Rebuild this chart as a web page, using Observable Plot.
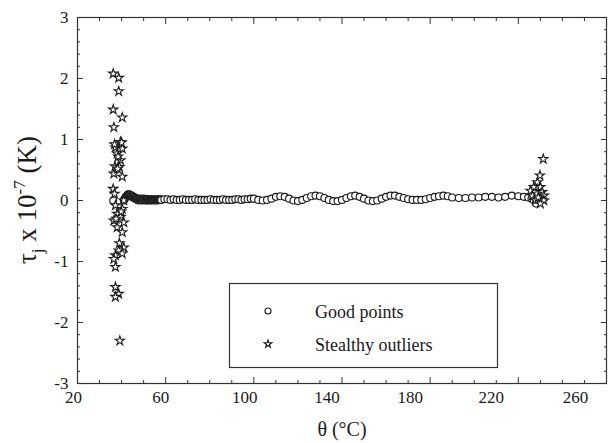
<!DOCTYPE html>
<html>
<head>
<meta charset="utf-8">
<script src="https://cdn.jsdelivr.net/npm/d3@7"></script>
<script src="https://cdn.jsdelivr.net/npm/@observablehq/plot@0.6"></script>
<style>
  html, body { margin: 0; padding: 0; background: white; }
  #chart { position: relative; width: 613px; height: 443px; }
  #chart svg text { font-family: "Liberation Serif" !important; }
</style>
</head>
<body>
<div id="chart"></div>
<script>
// ---- data ----
const goodTheta = [
  36.2,
  41.00, 41.25, 41.50, 41.75, 42.00, 42.25, 42.50, 42.75, 43.00, 43.25, 43.50, 43.75,
  44.00, 44.25, 44.50, 44.75, 45.00, 45.25, 45.50, 45.75, 46.00, 46.25, 46.50, 46.75,
  47.00, 47.25, 47.50, 47.75, 48.00, 48.25, 48.50, 48.75, 49.00, 49.25, 49.50, 49.75,
  50.00, 50.25, 50.50, 50.75, 51.00, 51.25, 51.50, 51.75, 52.00, 52.25, 52.50, 52.75,
  53.00, 53.25, 53.50, 53.75, 54.00, 54.25, 54.50, 54.75, 55.00, 55.25, 55.50, 55.75,
  56.00, 56.25, 56.50, 56.75, 57.00, 57.25, 57.50, 57.75, 58.00,
  59.4, 60.8, 62.2, 63.6, 65.0, 66.4, 67.8, 69.2, 70.6, 72.0, 73.4, 74.8, 76.2, 77.6, 79.0, 80.4,
  81.8, 83.2, 84.6, 86.0, 87.4, 88.8, 90.2, 91.6, 93.0, 94.4, 95.8, 97.2, 98.6,
  100, 102, 104, 106, 108, 110, 112, 114, 116, 118, 120, 122, 124, 126, 128, 130, 132, 134, 136,
  138, 140, 142, 144, 146, 148, 150, 152, 154, 156, 158, 160, 162, 164, 166, 168, 170, 172, 174,
  176, 178, 180, 182, 184, 186, 188, 190,
  193, 196, 199, 202, 205, 208, 211, 214, 217, 220, 222.5, 224.5, 226, 227, 228, 229
];
const goodTau = [
  0.00,
  0.00, 0.02, 0.03, 0.05, 0.06, 0.07, 0.08, 0.09, 0.10, 0.09, 0.10, 0.08,
  0.09, 0.07, 0.08, 0.06, 0.07, 0.05, 0.06, 0.04, 0.05, 0.03, 0.04, 0.02,
  0.03, 0.01, 0.02, 0.00, 0.02, 0.01, 0.03, 0.01, 0.02, 0.00, 0.02, 0.01,
  0.03, 0.01, 0.02, 0.00, 0.02, 0.01, 0.02, 0.00, 0.01, 0.02, 0.01, 0.00,
  0.01, 0.02, 0.01, 0.00, 0.01, 0.02, 0.01, 0.01, 0.00, 0.01, 0.02, 0.01,
  0.01, 0.00, 0.01, 0.02, 0.01, 0.01, 0.01, 0.02, 0.01,
  0.02, 0.02, 0.01, 0.02, 0.01, 0.01, 0.02, 0.01, 0.01, 0.01, 0.02, 0.01, 0.01, 0.01, 0.01, 0.02,
  0.01, 0.01, 0.01, 0.02, 0.01, 0.01, 0.01, 0.02, 0.02, 0.01, 0.02, 0.02, 0.03,
  0.03, 0.01, 0.00, 0.01, 0.03, 0.06, 0.07, 0.06, 0.03, 0.00, -0.01, 0.01, 0.04, 0.07, 0.08, 0.07,
  0.04, 0.01, -0.01, -0.01, 0.01, 0.04, 0.07, 0.08, 0.06, 0.03, 0.00, -0.01, 0.00, 0.03, 0.06, 0.08,
  0.08, 0.06, 0.04, 0.02, 0.01, 0.01, 0.01, 0.02, 0.04, 0.06, 0.07, 0.08, 0.07, 0.05,
  0.04, 0.04, 0.05, 0.05, 0.06, 0.06, 0.05, 0.06, 0.08, 0.07, 0.06, 0.05, 0.03, 0.01, -0.05, 0.02
];
const starTheta = [
  36.2, 38.7, 38.7, 36.2, 40.3, 36.5, 39.5, 37.2, 40.3, 38.0, 39.5, 40.0, 36.8, 38.4,
  36.5, 40.3, 37.0, 39.0, 36.2, 36.8, 38.2,
  41.0, 37.2, 40.3, 38.0, 36.5, 39.5, 41.0, 38.0, 40.3, 37.5, 39.8,
  41.0, 38.7, 37.2, 36.5, 40.3, 39.0, 37.2, 37.2, 38.7, 37.2, 39.2,
  231.3, 229.8, 228.6, 227.0, 230.0, 225.5, 230.8, 226.3, 231.6, 229.3, 231.6, 227.8, 230.0, 228.5, 229.0
];
const starTau = [
  2.08, 2.01, 1.79, 1.49, 1.36, 1.20, 0.96, 0.87, 0.85, 0.77, 0.66, 0.95, 0.92, 0.72,
  0.44, 0.39, 0.56, 0.55, 0.19, 0.11, 0.52,
  0.00, -0.08, -0.14, -0.22, -0.33, -0.27, -0.36, -0.44, -0.52, -0.30, -0.18,
  -0.77, -0.82, -0.90, -0.96, -0.87, -0.70, -1.09, -1.42, -1.53, -1.58, -2.30,
  0.68, 0.41, 0.30, 0.22, 0.22, 0.16, 0.14, 0.08, 0.08, 0.03, 0.00, 0.00, -0.05, 0.11, 0.05
];
const xMajor = [20, 60, 100, 140, 180, 220, 260];
const yMajor = [-3, -2, -1, 0, 1, 2, 3];
const xMinor = d3.range(20, 261, 10).filter(v => !xMajor.includes(v));
const yMinor = d3.range(-30, 31, 2).map(v => v / 10).filter(v => !yMajor.includes(v));
const xLabel = "θ (°C)";
const legendLabels = ["Good points", "Stealthy outliers"];

// layout: in the reference the bottom tick labels drift left of their ticks
const xLabelNudge = [-4, -5, -9, -15, -20, -27, -31];

const good = goodTheta.map((t, i) => ({t, v: goodTau[i]}));
const stars = starTheta.map((t, i) => ({t, v: starTau[i]}));

const ink = "#1a1a1a";
const font = "Liberation Serif";
const noText = () => "";

const xLabelAxes = xMajor.map((v, i) =>
  Plot.axisX({ticks: [v], tickSize: 0, tickPadding: 7, dx: xLabelNudge[i], tickFormat: d => String(d),
    label: null, fontSize: 17, fontFamily: font}));

const chart = Plot.plot({
  width: 613,
  height: 443,
  marginLeft: 77,
  marginRight: 7,
  marginTop: 17,
  marginBottom: 60,
  x: {domain: [20, 260]},
  y: {domain: [-3, 3]},
  style: {fontFamily: font, fontSize: "17px", color: ink, background: "white", overflow: "visible"},
  marks: [
    Plot.dot(good, {x: "t", y: "v", r: 3.5, stroke: ink, fill: "white", strokeWidth: 1.1}),
    Plot.dot(stars, {x: "t", y: "v", symbol: "star", r: 2.9, stroke: ink, fill: "white", strokeWidth: 1.1}),
    Plot.frame({stroke: "#333", strokeWidth: 1.2}),
    // tick labels
    ...xLabelAxes,
    Plot.axisY({ticks: yMajor, tickSize: 0, tickPadding: 9, tickFormat: d => String(d), label: null, fontSize: 17, fontFamily: font}),
    // inward ticks, all four sides
    Plot.axisX({ticks: xMajor, tickSize: -6, tickFormat: noText, label: null, stroke: "#333"}),
    Plot.axisX({ticks: xMinor, tickSize: -3, tickFormat: noText, label: null, stroke: "#333"}),
    Plot.axisX({anchor: "top", ticks: xMajor, tickSize: -6, tickFormat: noText, label: null, stroke: "#333"}),
    Plot.axisX({anchor: "top", ticks: xMinor, tickSize: -3, tickFormat: noText, label: null, stroke: "#333"}),
    Plot.axisY({ticks: yMajor, tickSize: -6, tickFormat: noText, label: null, stroke: "#333"}),
    Plot.axisY({ticks: yMinor, tickSize: -3, tickFormat: noText, label: null, stroke: "#333"}),
    Plot.axisY({anchor: "right", ticks: yMajor, tickSize: -6, tickFormat: noText, label: null, stroke: "#333"}),
    Plot.axisY({anchor: "right", ticks: yMinor, tickSize: -3, tickFormat: noText, label: null, stroke: "#333"}),
    Plot.text([xLabel], {frameAnchor: "bottom", dy: 52, fontSize: 20, fontFamily: font, fill: ink})
  ]
});

document.getElementById("chart").appendChild(chart);

// y-axis title with subscript / superscript
const svg = d3.select(chart);
const yt = svg.append("text")
  .attr("transform", "translate(36,200) rotate(-90)")
  .attr("text-anchor", "middle")
  .style("font-family", font)
  .attr("font-size", 27)
  .attr("fill", ink);
yt.append("tspan").text("τ");
yt.append("tspan").attr("font-size", 17).attr("dy", 7).text("j");
yt.append("tspan").attr("dy", -7).text(" x 10");
yt.append("tspan").attr("font-size", 17).attr("dy", -11).text("-7");
yt.append("tspan").attr("dy", 11).text(" (K)");

// legend box (layout in pixels)
const lg = svg.append("g").style("font-family", font).attr("fill", ink).attr("text-anchor", "start");
lg.append("rect").attr("x", 229.5).attr("y", 283.5).attr("width", 268).attr("height", 84)
  .attr("fill", "white").attr("stroke", "#333").attr("stroke-width", 1.2);
lg.append("circle").attr("cx", 268).attr("cy", 311).attr("r", 3)
  .attr("fill", "white").attr("stroke", ink).attr("stroke-width", 1.1);
lg.append("path").attr("transform", "translate(268,344)")
  .attr("d", d3.symbol(d3.symbolStar, 18)())
  .attr("fill", "white").attr("stroke", ink).attr("stroke-width", 1.1);
lg.append("text").attr("x", 315).attr("y", 318).attr("font-size", 18).attr("text-anchor", "start").text(legendLabels[0]);
lg.append("text").attr("x", 315).attr("y", 351).attr("font-size", 18).attr("text-anchor", "start").text(legendLabels[1]);
svg.selectAll("text").style("font-family", font);
</script>
</body>
</html>
